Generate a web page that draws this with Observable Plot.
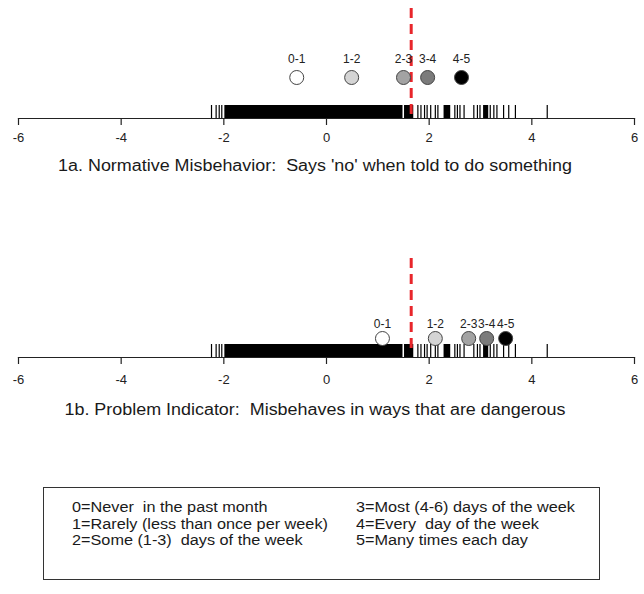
<!DOCTYPE html>
<html>
<head>
<meta charset="utf-8">
<script src="https://cdn.jsdelivr.net/npm/d3@7"></script>
<script src="https://cdn.jsdelivr.net/npm/@observablehq/plot@0.6"></script>
<style>
  html, body { margin: 0; padding: 0; background: #fff; }
  #root { position: relative; width: 644px; height: 594px; overflow: hidden; font-family: "Liberation Sans", Arial, sans-serif; color: #1a1a1a; }
  .panel { position: absolute; left: 0; }
  .caption { position: absolute; left: 0; width: 630px; text-align: center; font-size: 16px; white-space: pre; transform: scaleX(1.12); transform-origin: 315px 50%; line-height: 18px; }
  #legend { position: absolute; left: 43px; top: 487px; width: 557px; height: 93px; border: 1px solid #333; box-sizing: border-box; }
  .lcol { position: absolute; top: 11px; font-size: 14px; line-height: 16.5px; white-space: pre; transform: scaleX(1.16); transform-origin: 0 0; }
</style>
</head>
<body>
<div id="root"></div>
<script>
// ---- data ----
const xTicks = [-6, -4, -2, 0, 2, 4, 6];
const cutoff = [1.65];
const binLabels = ["0-1", "1-2", "2-3", "3-4", "4-5"];
const thresholds1a = [-0.58, 0.49, 1.50, 1.97, 2.63];
const thresholds1b = [1.09, 2.12, 2.77, 3.12, 3.49];
// person locations (rug): isolated values and densely packed stretches
const rugSingles = [-2.24, -2.15, -2.09, -2.04, 1.78, 1.84, 1.91, 1.96, 2.03, 2.12, 2.17,
  2.50, 2.55, 2.60, 2.68, 2.87, 2.94, 2.99, 3.19, 3.26, 3.32, 3.45, 3.55, 3.68, 4.30];
const rugDenseFrom = [-1.98, 1.52, 2.29, 3.06];
const rugDenseTo   = [1.49, 1.70, 2.42, 3.16];
const captions = ["1a. Normative Misbehavior:  Says 'no' when told to do something",
                  "1b. Problem Indicator:  Misbehaves in ways that are dangerous"];
const legendLeft  = ["0=Never  in the past month", "1=Rarely (less than once per week)", "2=Some (1-3)  days of the week"];
const legendRight = ["3=Most (4-6) days of the week", "4=Every  day of the week", "5=Many times each day"];

// ---- styles ----
const binFills = ["#ffffff", "#d4d4d4", "#a3a3a3", "#7b7b7b", "#000000"];

const dense = rugDenseFrom.map((a, i) => ({a, b: rugDenseTo[i]}));

function panel(thresholds, opts) {
  const bins = binLabels.map((label, i) => ({label, x: thresholds[i]}));
  const H = opts.height, axisY = opts.axisY;
  const frameH = axisY - opts.top;
  return Plot.plot({
    width: 644, height: H,
    marginLeft: 18, marginRight: 10, marginTop: opts.top, marginBottom: H - axisY,
    style: {fontFamily: "'Liberation Sans', Arial, sans-serif", background: "transparent"},
    x: {domain: [-6, 6]},
    color: {domain: binLabels, range: binFills},
    marks: [
      Plot.frame({anchor: "bottom", stroke: "#222", strokeWidth: 1.2}),
      Plot.axisX({ticks: xTicks, tickSize: 7, tickPadding: opts.pad, fontSize: 13, stroke: "#222", strokeWidth: 1.2, fill: "#222", tickFormat: d => String(d)}),
      Plot.rect(dense, {x1: "a", x2: "b", fill: "#000", insetTop: frameH - 13}),
      Plot.tickX(rugSingles, {x: d => d, stroke: "#000", strokeWidth: 1.2, insetTop: frameH - 13}),
      Plot.ruleX(cutoff, {x: d => d, stroke: "#e8262b", strokeWidth: 3, strokeDasharray: "10,6", insetBottom: 3}),
      Plot.dot(bins, {x: "x", fill: "label", stroke: "#444", strokeWidth: 1, r: 7, frameAnchor: "bottom", dy: -(axisY - opts.dotY)}),
      Plot.text(bins, {x: "x", text: "label", fontSize: 12, fill: "#222", frameAnchor: "bottom", dy: -(axisY - opts.labelY)})
    ]
  });
}

const root = document.getElementById("root");
function place(node, top) { node.classList.add("panel"); node.style.top = top + "px"; root.appendChild(node); }

place(panel(thresholds1a, {height: 150, top: 8, axisY: 118, dotY: 77, labelY: 62, pad: 7}), 0);
place(panel(thresholds1b, {height: 145, top: 8, axisY: 107, dotY: 88, labelY: 77, pad: 10}), 250);

[[captions[0], 157], [captions[1], 401]].forEach(([t, y]) => {
  const d = document.createElement("div");
  d.className = "caption"; d.style.top = y + "px"; d.textContent = t; root.appendChild(d);
});

const lg = document.createElement("div"); lg.id = "legend"; root.appendChild(lg);
[[legendLeft, 28], [legendRight, 312]].forEach(([rows, left]) => {
  const c = document.createElement("div"); c.className = "lcol"; c.style.left = left + "px";
  c.textContent = rows.join("\n"); lg.appendChild(c);
});
</script>
</body>
</html>
